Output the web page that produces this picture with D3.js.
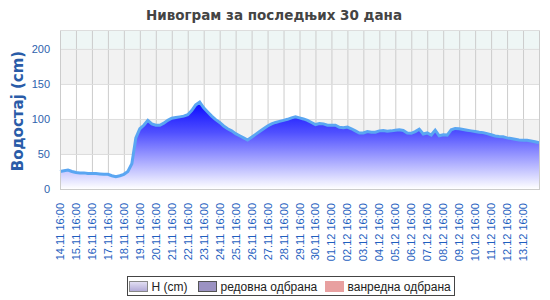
<!DOCTYPE html>
<html>
<head>
<meta charset="utf-8">
<script src="https://cdn.jsdelivr.net/npm/d3@7"></script>
<style>
  body { margin: 0; background: #fff; }
  svg { display: block; }
</style>
</head>
<body>
<svg id="chart"></svg>
<script>
// водостај, очитавања на сваких 6 сати од 14.11 16:00
const startTime = "14.11 16:00";
const stepHours = 6;
const levels = [
  25, 26, 27, 25, 23.5, 23, 23, 22, 22, 22,
  21.5, 21, 21, 19, 17.5, 19, 21, 25, 36, 73,
  86, 91, 98, 93, 91, 91, 94, 98, 101, 102,
  103, 104, 106, 112, 120, 124, 116, 110, 104, 99,
  95, 90, 86, 83, 79, 76, 73, 70, 74, 78,
  82, 86, 90, 93, 95, 96.5, 98, 99.5, 101.5, 103,
  101.5, 100, 98, 95, 92, 93.5, 93, 91, 91, 91,
  88, 87.5, 88.5, 86, 83, 80, 80, 82, 81, 81,
  83, 83.5, 82.5, 83, 84, 84.5, 83.5, 80, 79.5, 82,
  85.5, 78.5, 80, 77, 84, 76, 77.5, 77, 84.5, 86.5,
  86, 85, 84, 83, 82, 81, 80.5, 79, 77.5, 75.7,
  75, 74.5, 73, 72, 71, 70, 69.5, 69.5, 68.5, 67.5, 66
];
const tickLabels = [
  "14.11 16:00", "15.11 16:00", "16.11 16:00", "17.11 16:00", "18.11 16:00",
  "19.11 16:00", "20.11 16:00", "21.11 16:00", "22.11 16:00", "23.11 16:00",
  "24.11 16:00", "25.11 16:00", "26.11 16:00", "27.11 16:00", "28.11 16:00",
  "29.11 16:00", "30.11 16:00", "01.12 16:00", "02.12 16:00", "03.12 16:00",
  "04.12 16:00", "05.12 16:00", "06.12 16:00", "07.12 16:00", "08.12 16:00",
  "09.12 16:00", "10.12 16:00", "11.12 16:00", "12.12 16:00", "13.12 16:00"
];
const yTicks = [0, 50, 100, 150, 200];
const legendItems = ["H (cm)", "редовна одбрана", "ванредна одбрана"];

const width = 550, height = 300;
const plotLeft = 60, plotRight = 539, plotTop = 30, plotBottom = 189;

const parse = d3.timeParse("%d.%m %H:%M");
const fmt = d3.timeFormat("%d.%m %H:%M");
const t0 = parse(startTime);
let data = levels.map((v, i) => ({ t: d3.timeHour.offset(t0, i * stepHours), v: v }));
let ticks = tickLabels.map(parse);

let svg = d3.select("#chart")
  .attr("width", width)
  .attr("height", height)
  .style("font-family", "'Liberation Sans', Arial, sans-serif");

let x = d3.scaleTime()
  .domain([t0, data[data.length - 1].t])
  .range([plotLeft, plotRight]);

let y = d3.scaleLinear()
  .domain([0, 227])
  .range([plotBottom, plotTop]);

// позадинске траке
let bands = [[0, 50, "#ffffff"], [50, 100, "#f2f2f2"], [100, 150, "#ffffff"], [150, 200, "#f2f2f2"], [200, 227, "#eef6f5"]];
svg.append("g").selectAll("rect")
  .data(bands)
  .enter()
  .append("rect")
  .attr("x", plotLeft)
  .attr("width", plotRight - plotLeft + 1)
  .attr("y", d => y(d[1]))
  .attr("height", d => y(d[0]) - y(d[1]))
  .style("fill", d => d[2]);

// мрежа
svg.append("g")
  .attr("transform", `translate(0, ${plotBottom})`)
  .call(d3.axisBottom(x).tickValues(ticks).tickSize(-(plotBottom - plotTop)).tickFormat(""))
  .call(g => g.select(".domain").remove())
  .call(g => g.selectAll("line").attr("stroke", "#cccccc"));

svg.append("g")
  .attr("transform", `translate(${plotLeft}, 0)`)
  .call(d3.axisLeft(y).tickValues(yTicks.slice(1)).tickSize(-(plotRight - plotLeft + 1)).tickFormat(""))
  .call(g => g.select(".domain").remove())
  .call(g => g.selectAll("line").attr("stroke", "#dddddd"));

// површина
let defs = svg.append("defs");
let grad = defs.append("linearGradient")
  .attr("id", "fillGrad")
  .attr("x1", 0).attr("y1", 0).attr("x2", 0).attr("y2", 1);
grad.append("stop").attr("offset", "0%").attr("stop-color", "#0808ff");
grad.append("stop").attr("offset", "35%").attr("stop-color", "#5050ff");
grad.append("stop").attr("offset", "100%").attr("stop-color", "#ffffff");

let lg = defs.append("linearGradient")
  .attr("id", "legGrad")
  .attr("x1", 0).attr("y1", 0).attr("x2", 0).attr("y2", 1);
lg.append("stop").attr("offset", "0%").attr("stop-color", "#e4e0f4");
lg.append("stop").attr("offset", "100%").attr("stop-color", "#b0a8d6");

let area = d3.area()
  .x(d => x(d.t))
  .y0(y(0))
  .y1(d => y(d.v));

let line = d3.line()
  .x(d => x(d.t))
  .y(d => y(d.v));

svg.append("path")
  .datum(data)
  .attr("d", area)
  .style("fill", "url(#fillGrad)");

svg.append("path")
  .datum(data)
  .attr("d", line)
  .style("fill", "none")
  .style("stroke", "#5aa6f2")
  .style("stroke-width", 3);

// оквир
svg.append("line")
  .attr("x1", plotLeft).attr("x2", plotRight + 1)
  .attr("y1", plotBottom + 0.5).attr("y2", plotBottom + 0.5)
  .style("stroke", "#cccccc");
svg.append("line")
  .attr("x1", plotLeft + 0.5).attr("x2", plotLeft + 0.5)
  .attr("y1", plotTop).attr("y2", plotBottom)
  .style("stroke", "#cccccc");
svg.append("line")
  .attr("x1", plotRight + 0.5).attr("x2", plotRight + 0.5)
  .attr("y1", plotTop).attr("y2", plotBottom)
  .style("stroke", "#cccccc");
svg.append("line")
  .attr("x1", plotLeft).attr("x2", plotRight + 1)
  .attr("y1", plotTop + 0.5).attr("y2", plotTop + 0.5)
  .style("stroke", "#dddddd");

// ознаке на y оси
svg.append("g").selectAll("text")
  .data(yTicks)
  .enter()
  .append("text")
  .attr("x", plotLeft - 10)
  .attr("y", d => y(d) + 4)
  .attr("text-anchor", "end")
  .style("font-size", "11px")
  .style("fill", "#2e62ad")
  .text(d => d);

// ознаке на x оси
svg.append("g").selectAll("text")
  .data(ticks)
  .enter()
  .append("text")
  .attr("transform", d => `translate(${x(d) + 4}, ${plotBottom + 14}) rotate(-90)`)
  .attr("text-anchor", "end")
  .style("font-size", "11px")
  .style("fill", "#1f5fbf")
  .text(d => fmt(d));

// наслови
svg.append("text")
  .attr("x", 274)
  .attr("y", 20)
  .attr("text-anchor", "middle")
  .style("font-family", "'DejaVu Sans', Verdana, sans-serif")
  .style("font-size", "13.5px")
  .style("font-weight", "bold")
  .style("fill", "#444444")
  .text("Нивограм за последњих 30 дана");

svg.append("text")
  .attr("transform", "translate(23, 111) rotate(-90)")
  .attr("text-anchor", "middle")
  .style("font-family", "'DejaVu Sans', Verdana, sans-serif")
  .style("font-size", "15px")
  .style("font-weight", "bold")
  .style("fill", "#2a5ca8")
  .text("Водостај (cm)");

// легенда
let leg = svg.append("g");
leg.append("rect")
  .attr("x", 127.5).attr("y", 276.5)
  .attr("width", 327).attr("height", 19)
  .style("fill", "#ffffff")
  .style("stroke", "#444444");

let swatchX = [128.5, 197.5, 324.5];
let swatchFill = ["url(#legGrad)", "#9b92c2", "#e8a0a0"];
let swatchStroke = ["#888888", "#555555", "#e8a0a0"];
leg.selectAll(".sw")
  .data(legendItems)
  .enter()
  .append("rect")
  .attr("x", (d, i) => swatchX[i] + 1)
  .attr("y", 281.5)
  .attr("width", 18).attr("height", 10)
  .style("fill", (d, i) => swatchFill[i])
  .style("stroke", (d, i) => swatchStroke[i]);

leg.selectAll(".lt")
  .data(legendItems)
  .enter()
  .append("text")
  .attr("x", (d, i) => swatchX[i] + 23)
  .attr("y", 291)
  .style("font-size", "12px")
  .style("fill", "#222222")
  .text(d => d);
</script>
</body>
</html>
